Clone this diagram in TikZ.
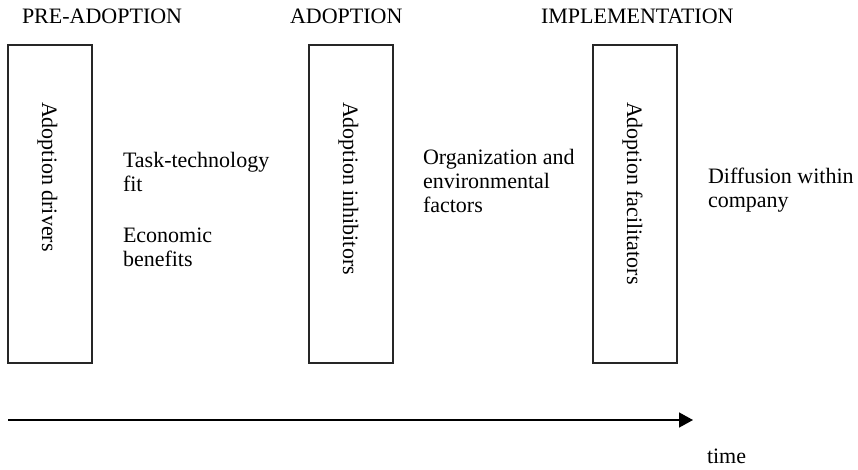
\documentclass[tikz,border=0pt]{standalone}
\usepackage{fontspec}
\setmainfont{Liberation Serif}
\usetikzlibrary{arrows.meta,calc}
% left-aligned block of lines whose baseline is that of its first line
\newcommand\textlines[1]{\begin{tabular}[t]{@{}l@{}}#1\end{tabular}}
\begin{document}
\begin{tikzpicture}[x=1pt,y=-1pt,
  every node/.style={inner sep=0pt, outer sep=0pt, font=\fontsize{22}{24}\selectfont},
  label text/.style={anchor=base west},
  stagebox/.style={draw=black!85, line width=1.1pt, minimum width=84pt,
    minimum height=318pt, anchor=north west},
  stagename/.style={rotate=-90, anchor=base west},
  timeline/.style={line width=1.5pt, -{Triangle[length=14pt,width=15pt]}}
]
\useasboundingbox (0,0) rectangle (858,469);

% phase headings
\node[label text] (h1) at (22,23) {PRE-ADOPTION};
\node[label text] (h2) at (290,23) {ADOPTION};
\node[label text] (h3) at (541,23) {IMPLEMENTATION};

% stage boxes with rotated names
\node[stagebox] (b1) at (8,45) {};
\node[stagebox] (b2) at (309,45) {};
\node[stagebox] (b3) at (593,45) {};
\node[stagename] (n1) at ($(b1.north)+(-8,57)$) {Adoption drivers};
\node[stagename] (n2) at ($(b2.north)+(-8,57)$) {Adoption inhibitors};
\node[stagename] (n3) at ($(b3.north)+(-8,57)$) {Adoption facilitators};

% factors between the stages
\node[label text] (f1) at (123,167) {\textlines{Task-technology\\fit}};
\node[label text] (f2) at (123,242) {\textlines{Economic\\benefits}};
\node[label text] (f3) at (423,164) {\textlines{Organization and\\environmental\\factors}};
\node[label text] (f4) at (708,183) {\textlines{Diffusion within\\company}};

% time axis
\coordinate (t0) at (8,420);
\coordinate (t1) at (693,420);
\draw[timeline] (t0) -- (t1);
\node[label text] (tl) at (707,463) {time};
\end{tikzpicture}
\end{document}
